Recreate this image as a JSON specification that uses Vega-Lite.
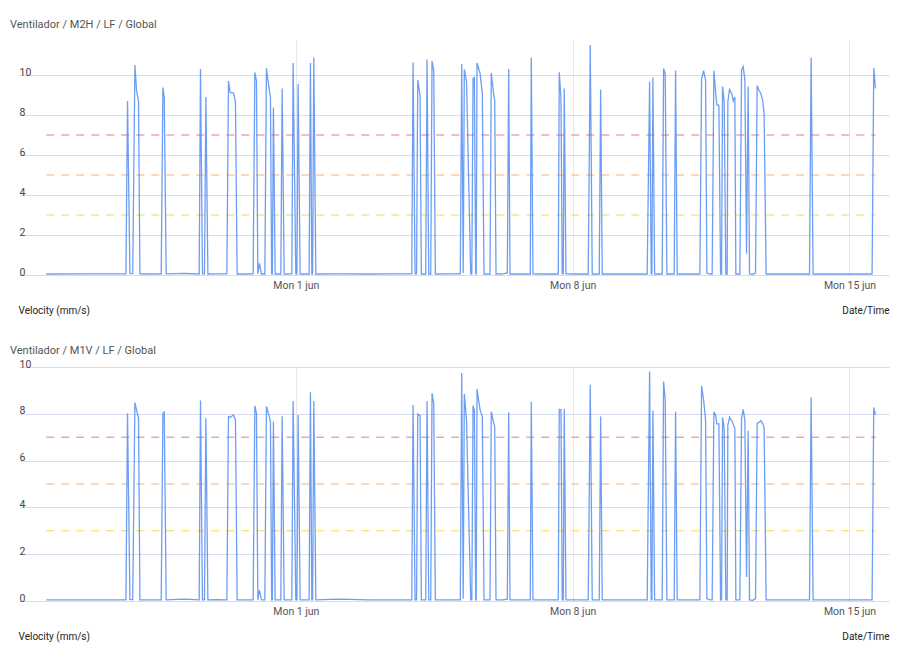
{
  "$schema": "https://vega.github.io/schema/vega-lite/v6.json",
  "background": "white",
  "padding": {"top": 19, "left": 10, "right": 5, "bottom": 5},
  "bounds": "flush",
  "spacing": 92,
  "datasets": {
    "readings": [
      {"time": "2020-05-25T16:33", "M2H": 0.05, "M1V": 0.05},
      {"time": "2020-05-26T18:38", "M2H": 0.06, "M1V": 0.05},
      {"time": "2020-05-27T16:54", "M2H": 0.06, "M1V": 0.05},
      {"time": "2020-05-27T17:52", "M2H": 8.7, "M1V": 8.02},
      {"time": "2020-05-27T19:19", "M2H": 0.08, "M1V": 0.06},
      {"time": "2020-05-27T21:01", "M2H": 0.07, "M1V": 0.06},
      {"time": "2020-05-27T22:21", "M2H": 10.5, "M1V": 8.48},
      {"time": "2020-05-27T23:20", "M2H": 9.25, "M1V": 8.17},
      {"time": "2020-05-28T00:32", "M2H": 8.67, "M1V": 7.81},
      {"time": "2020-05-28T01:23", "M2H": 0.06, "M1V": 0.05},
      {"time": "2020-05-28T08:15", "M2H": 0.05, "M1V": 0.05},
      {"time": "2020-05-28T14:18", "M2H": 0.06, "M1V": 0.05},
      {"time": "2020-05-28T15:20", "M2H": 9.37, "M1V": 8.02},
      {"time": "2020-05-28T16:08", "M2H": 8.9, "M1V": 8.07},
      {"time": "2020-05-28T17:20", "M2H": 0.06, "M1V": 0.05},
      {"time": "2020-05-29T04:15", "M2H": 0.08, "M1V": 0.08},
      {"time": "2020-05-29T13:21", "M2H": 0.05, "M1V": 0.05},
      {"time": "2020-05-29T14:09", "M2H": 10.3, "M1V": 8.57},
      {"time": "2020-05-29T15:21", "M2H": 0.06, "M1V": 0.05},
      {"time": "2020-05-29T16:34", "M2H": 0.06, "M1V": 0.05},
      {"time": "2020-05-29T17:25", "M2H": 8.9, "M1V": 7.81},
      {"time": "2020-05-29T18:38", "M2H": 0.05, "M1V": 0.05},
      {"time": "2020-05-30T00:16", "M2H": 0.06, "M1V": 0.06},
      {"time": "2020-05-30T06:09", "M2H": 0.06, "M1V": 0.05},
      {"time": "2020-05-30T07:08", "M2H": 9.7, "M1V": 7.88},
      {"time": "2020-05-30T08:09", "M2H": 9.13, "M1V": 7.85},
      {"time": "2020-05-30T10:10", "M2H": 9.1, "M1V": 7.95},
      {"time": "2020-05-30T11:22", "M2H": 8.67, "M1V": 7.74},
      {"time": "2020-05-30T12:24", "M2H": 0.05, "M1V": 0.05},
      {"time": "2020-05-30T17:15", "M2H": 0.05, "M1V": 0.05},
      {"time": "2020-05-30T22:06", "M2H": 0.06, "M1V": 0.05},
      {"time": "2020-05-30T23:08", "M2H": 10.13, "M1V": 8.34},
      {"time": "2020-05-31T00:07", "M2H": 9.7, "M1V": 8.02},
      {"time": "2020-05-31T00:57", "M2H": 0.06, "M1V": 0.05},
      {"time": "2020-05-31T01:56", "M2H": 0.58, "M1V": 0.46},
      {"time": "2020-05-31T03:09", "M2H": 0.05, "M1V": 0.05},
      {"time": "2020-05-31T05:12", "M2H": 0.05, "M1V": 0.05},
      {"time": "2020-05-31T06:10", "M2H": 10.35, "M1V": 8.31},
      {"time": "2020-05-31T07:38", "M2H": 9.4, "M1V": 7.95},
      {"time": "2020-05-31T08:36", "M2H": 8.9, "M1V": 7.67},
      {"time": "2020-05-31T09:20", "M2H": 0.06, "M1V": 0.05},
      {"time": "2020-05-31T09:45", "M2H": 0.06, "M1V": 0.05},
      {"time": "2020-05-31T10:25", "M2H": 8.38, "M1V": 7.67},
      {"time": "2020-05-31T11:27", "M2H": 0.05, "M1V": 0.05},
      {"time": "2020-05-31T14:54", "M2H": 0.05, "M1V": 0.05},
      {"time": "2020-05-31T15:42", "M2H": 9.33, "M1V": 7.9},
      {"time": "2020-05-31T16:55", "M2H": 0.05, "M1V": 0.05},
      {"time": "2020-05-31T21:35", "M2H": 0.06, "M1V": 0.05},
      {"time": "2020-05-31T22:22", "M2H": 10.6, "M1V": 8.55},
      {"time": "2020-06-01T00:00", "M2H": 0.06, "M1V": 0.05},
      {"time": "2020-06-01T00:40", "M2H": 0.06, "M1V": 0.05},
      {"time": "2020-06-01T01:24", "M2H": 9.55, "M1V": 7.95},
      {"time": "2020-06-01T02:37", "M2H": 0.05, "M1V": 0.05},
      {"time": "2020-06-01T08:04", "M2H": 0.05, "M1V": 0.05},
      {"time": "2020-06-01T08:52", "M2H": 10.6, "M1V": 8.92},
      {"time": "2020-06-01T09:43", "M2H": 0.06, "M1V": 0.05},
      {"time": "2020-06-01T10:12", "M2H": 0.06, "M1V": 0.05},
      {"time": "2020-06-01T10:55", "M2H": 10.88, "M1V": 8.55},
      {"time": "2020-06-01T12:08", "M2H": 0.05, "M1V": 0.05},
      {"time": "2020-06-02T02:16", "M2H": 0.06, "M1V": 0.08},
      {"time": "2020-06-02T20:28", "M2H": 0.05, "M1V": 0.05},
      {"time": "2020-06-03T08:36", "M2H": 0.06, "M1V": 0.05},
      {"time": "2020-06-03T22:22", "M2H": 0.06, "M1V": 0.05},
      {"time": "2020-06-03T23:09", "M2H": 10.63, "M1V": 8.38},
      {"time": "2020-06-04T00:22", "M2H": 0.06, "M1V": 0.05},
      {"time": "2020-06-04T01:16", "M2H": 0.06, "M1V": 0.05},
      {"time": "2020-06-04T02:00", "M2H": 9.75, "M1V": 7.99},
      {"time": "2020-06-04T03:24", "M2H": 9.0, "M1V": 7.92},
      {"time": "2020-06-04T04:11", "M2H": 0.05, "M1V": 0.05},
      {"time": "2020-06-04T06:51", "M2H": 0.05, "M1V": 0.05},
      {"time": "2020-06-04T07:39", "M2H": 10.78, "M1V": 8.55},
      {"time": "2020-06-04T08:40", "M2H": 0.05, "M1V": 0.05},
      {"time": "2020-06-04T09:53", "M2H": 0.05, "M1V": 0.05},
      {"time": "2020-06-04T10:40", "M2H": 10.7, "M1V": 8.88},
      {"time": "2020-06-04T11:42", "M2H": 10.25, "M1V": 8.45},
      {"time": "2020-06-04T12:41", "M2H": 0.05, "M1V": 0.05},
      {"time": "2020-06-04T20:59", "M2H": 0.06, "M1V": 0.05},
      {"time": "2020-06-05T03:50", "M2H": 0.06, "M1V": 0.05},
      {"time": "2020-06-05T04:41", "M2H": 10.55, "M1V": 9.74},
      {"time": "2020-06-05T05:36", "M2H": 0.1, "M1V": 0.1},
      {"time": "2020-06-05T06:16", "M2H": 10.28, "M1V": 8.85},
      {"time": "2020-06-05T07:36", "M2H": 9.67, "M1V": 7.74},
      {"time": "2020-06-05T10:09", "M2H": 0.06, "M1V": 0.05},
      {"time": "2020-06-05T10:49", "M2H": 0.06, "M1V": 0.05},
      {"time": "2020-06-05T11:33", "M2H": 9.83, "M1V": 8.35},
      {"time": "2020-06-05T12:20", "M2H": 9.87, "M1V": 8.17},
      {"time": "2020-06-05T13:11", "M2H": 0.06, "M1V": 0.05},
      {"time": "2020-06-05T13:29", "M2H": 0.06, "M1V": 0.05},
      {"time": "2020-06-05T13:58", "M2H": 10.6, "M1V": 9.05},
      {"time": "2020-06-05T15:47", "M2H": 10.1, "M1V": 8.19},
      {"time": "2020-06-05T17:11", "M2H": 9.08, "M1V": 7.88},
      {"time": "2020-06-05T18:13", "M2H": 0.05, "M1V": 0.05},
      {"time": "2020-06-05T21:51", "M2H": 0.05, "M1V": 0.05},
      {"time": "2020-06-05T22:38", "M2H": 10.1, "M1V": 8.09},
      {"time": "2020-06-05T23:51", "M2H": 9.17, "M1V": 7.67},
      {"time": "2020-06-06T00:42", "M2H": 8.72, "M1V": 7.45},
      {"time": "2020-06-06T01:30", "M2H": 0.05, "M1V": 0.05},
      {"time": "2020-06-06T05:44", "M2H": 0.06, "M1V": 0.05},
      {"time": "2020-06-06T08:21", "M2H": 0.1, "M1V": 0.08},
      {"time": "2020-06-06T09:12", "M2H": 10.3, "M1V": 8.07},
      {"time": "2020-06-06T09:59", "M2H": 0.05, "M1V": 0.05},
      {"time": "2020-06-06T22:18", "M2H": 0.05, "M1V": 0.05},
      {"time": "2020-06-06T22:54", "M2H": 10.88, "M1V": 8.52},
      {"time": "2020-06-06T23:56", "M2H": 0.06, "M1V": 0.05},
      {"time": "2020-06-07T06:36", "M2H": 0.05, "M1V": 0.05},
      {"time": "2020-06-07T15:17", "M2H": 0.05, "M1V": 0.05},
      {"time": "2020-06-07T15:53", "M2H": 10.13, "M1V": 8.19},
      {"time": "2020-06-07T16:55", "M2H": 8.83, "M1V": 8.17},
      {"time": "2020-06-07T17:42", "M2H": 0.06, "M1V": 0.05},
      {"time": "2020-06-07T18:19", "M2H": 0.06, "M1V": 0.05},
      {"time": "2020-06-07T18:55", "M2H": 9.33, "M1V": 8.21},
      {"time": "2020-06-07T19:57", "M2H": 0.06, "M1V": 0.05},
      {"time": "2020-06-08T02:37", "M2H": 0.05, "M1V": 0.05},
      {"time": "2020-06-08T09:28", "M2H": 0.05, "M1V": 0.05},
      {"time": "2020-06-08T10:41", "M2H": 11.5, "M1V": 9.24},
      {"time": "2020-06-08T11:54", "M2H": 0.05, "M1V": 0.05},
      {"time": "2020-06-08T16:09", "M2H": 0.05, "M1V": 0.05},
      {"time": "2020-06-08T17:00", "M2H": 9.28, "M1V": 7.88},
      {"time": "2020-06-08T17:58", "M2H": 0.05, "M1V": 0.05},
      {"time": "2020-06-09T07:08", "M2H": 0.05, "M1V": 0.05},
      {"time": "2020-06-09T21:15", "M2H": 0.05, "M1V": 0.05},
      {"time": "2020-06-09T22:43", "M2H": 9.67, "M1V": 9.81},
      {"time": "2020-06-09T23:41", "M2H": 0.06, "M1V": 0.05},
      {"time": "2020-06-10T00:07", "M2H": 0.06, "M1V": 0.05},
      {"time": "2020-06-10T00:43", "M2H": 9.88, "M1V": 8.14},
      {"time": "2020-06-10T01:45", "M2H": 0.05, "M1V": 0.05},
      {"time": "2020-06-10T06:21", "M2H": 0.05, "M1V": 0.05},
      {"time": "2020-06-10T07:12", "M2H": 10.33, "M1V": 9.38},
      {"time": "2020-06-10T08:11", "M2H": 10.05, "M1V": 8.6},
      {"time": "2020-06-10T09:12", "M2H": 0.05, "M1V": 0.05},
      {"time": "2020-06-10T13:38", "M2H": 0.05, "M1V": 0.05},
      {"time": "2020-06-10T14:29", "M2H": 10.22, "M1V": 8.09},
      {"time": "2020-06-10T15:27", "M2H": 0.05, "M1V": 0.05},
      {"time": "2020-06-10T22:33", "M2H": 0.05, "M1V": 0.05},
      {"time": "2020-06-11T05:13", "M2H": 0.05, "M1V": 0.05},
      {"time": "2020-06-11T06:15", "M2H": 9.78, "M1V": 9.19},
      {"time": "2020-06-11T07:28", "M2H": 10.22, "M1V": 8.6},
      {"time": "2020-06-11T08:41", "M2H": 9.75, "M1V": 7.74},
      {"time": "2020-06-11T09:28", "M2H": 0.1, "M1V": 0.1},
      {"time": "2020-06-11T11:17", "M2H": 0.05, "M1V": 0.05},
      {"time": "2020-06-11T12:41", "M2H": 0.05, "M1V": 0.05},
      {"time": "2020-06-11T13:43", "M2H": 10.22, "M1V": 8.09},
      {"time": "2020-06-11T14:45", "M2H": 9.17, "M1V": 7.95},
      {"time": "2020-06-11T15:32", "M2H": 8.5, "M1V": 7.57},
      {"time": "2020-06-11T16:45", "M2H": 8.48, "M1V": 7.57},
      {"time": "2020-06-11T17:47", "M2H": 0.05, "M1V": 0.05},
      {"time": "2020-06-11T18:23", "M2H": 0.05, "M1V": 0.05},
      {"time": "2020-06-11T18:59", "M2H": 9.42, "M1V": 7.85},
      {"time": "2020-06-11T19:58", "M2H": 8.67, "M1V": 7.38},
      {"time": "2020-06-11T20:59", "M2H": 0.05, "M1V": 0.05},
      {"time": "2020-06-11T21:47", "M2H": 0.05, "M1V": 0.05},
      {"time": "2020-06-11T22:12", "M2H": 8.67, "M1V": 7.52},
      {"time": "2020-06-11T23:14", "M2H": 9.28, "M1V": 7.85},
      {"time": "2020-06-12T00:49", "M2H": 9.0, "M1V": 7.67},
      {"time": "2020-06-12T01:25", "M2H": 8.7, "M1V": 7.55},
      {"time": "2020-06-12T02:27", "M2H": 8.9, "M1V": 7.38},
      {"time": "2020-06-12T03:03", "M2H": 0.05, "M1V": 0.05},
      {"time": "2020-06-12T05:29", "M2H": 0.05, "M1V": 0.05},
      {"time": "2020-06-12T06:31", "M2H": 10.25, "M1V": 7.81},
      {"time": "2020-06-12T07:29", "M2H": 10.42, "M1V": 8.19},
      {"time": "2020-06-12T08:31", "M2H": 9.78, "M1V": 7.74},
      {"time": "2020-06-12T09:33", "M2H": 1.08, "M1V": 1.03},
      {"time": "2020-06-12T10:31", "M2H": 9.42, "M1V": 7.28},
      {"time": "2020-06-12T11:22", "M2H": 0.05, "M1V": 0.05},
      {"time": "2020-06-12T13:22", "M2H": 0.03, "M1V": 0.03},
      {"time": "2020-06-12T15:00", "M2H": 0.1, "M1V": 0.1},
      {"time": "2020-06-12T15:59", "M2H": 9.47, "M1V": 7.6},
      {"time": "2020-06-12T17:00", "M2H": 9.25, "M1V": 7.62},
      {"time": "2020-06-12T18:13", "M2H": 9.08, "M1V": 7.71},
      {"time": "2020-06-12T19:26", "M2H": 8.67, "M1V": 7.57},
      {"time": "2020-06-12T20:13", "M2H": 8.0, "M1V": 7.4},
      {"time": "2020-06-12T21:26", "M2H": 0.05, "M1V": 0.05},
      {"time": "2020-06-13T11:12", "M2H": 0.05, "M1V": 0.05},
      {"time": "2020-06-13T23:45", "M2H": 0.05, "M1V": 0.05},
      {"time": "2020-06-14T00:44", "M2H": 10.88, "M1V": 8.71},
      {"time": "2020-06-14T01:56", "M2H": 0.05, "M1V": 0.05},
      {"time": "2020-06-14T17:32", "M2H": 0.05, "M1V": 0.05},
      {"time": "2020-06-15T13:44", "M2H": 0.05, "M1V": 0.05},
      {"time": "2020-06-15T14:45", "M2H": 10.35, "M1V": 8.27},
      {"time": "2020-06-15T15:47", "M2H": 9.33, "M1V": 7.95}
    ],
    "thresholds": [
      {"level": "alarm", "value": 7, "time": "2020-05-25T16:33"},
      {"level": "alarm", "value": 7, "time": "2020-06-15T15:47"},
      {"level": "alert", "value": 5, "time": "2020-05-25T16:33"},
      {"level": "alert", "value": 5, "time": "2020-06-15T15:47"},
      {"level": "warning", "value": 3, "time": "2020-05-25T16:33"},
      {"level": "warning", "value": 3, "time": "2020-06-15T15:47"}
    ]
  },
  "vconcat": [
    {
      "title": {"text": "Ventilador / M2H / LF / Global", "offset": 10},
      "width": 870,
      "height": 235,
      "layer": [
        {
          "data": {"name": "thresholds"},
          "mark": {"type": "line", "strokeDash": [8, 7], "strokeWidth": 1, "opacity": 0.85},
          "encoding": {
            "x": {"field": "time", "type": "temporal",
              "scale": {"domain": [{"year": 2020, "month": 5, "date": 25}, {"year": 2020, "month": 6, "date": 16}]},
              "axis": {"values": [{"year": 2020, "month": 6, "date": 1}, {"year": 2020, "month": 6, "date": 8}, {"year": 2020, "month": 6, "date": 15}],
                "labelExpr": "timeFormat(datum.value, '%a %-d ') + lower(timeFormat(datum.value, '%b'))",
                "labelColor": "#555", "labelPadding": 5, "gridColor": "#e3e7f3",
                "title": "Date/Time", "titleAlign": "right", "titleBaseline": "middle", "titleX": 870, "titleY": 35}},
            "y": {"field": "value", "type": "quantitative",
              "scale": {"domain": [0, 11.75], "nice": false},
              "axis": {"values": [0, 2, 4, 6, 8, 10], "labelAlign": "left", "labelPadding": 0, "labelBaseline": "alphabetic", "labelDy": -6,
                "gridColor": "#d7ddef", "title": "Velocity (mm/s)", "titleAngle": 0, "titleAlign": "left", "titleBaseline": "middle", "titleX": -1, "titleY": 270}},
            "color": {"field": "level", "type": "nominal", "legend": null,
              "scale": {"domain": ["alarm", "alert", "warning"], "range": ["#e06666", "#f6a35c", "#f1d12e"]}}
          }
        },
        {
          "data": {"name": "readings"},
          "mark": {"type": "line", "color": "#4a86f0", "strokeWidth": 1.3, "opacity": 0.8},
          "encoding": {
            "x": {"field": "time", "type": "temporal"},
            "y": {"field": "M2H", "type": "quantitative"}
          }
        }
      ]
    },
    {
      "title": {"text": "Ventilador / M1V / LF / Global", "offset": 3},
      "width": 870,
      "height": 234,
      "layer": [
        {
          "data": {"name": "thresholds"},
          "mark": {"type": "line", "strokeDash": [8, 7], "strokeWidth": 1, "opacity": 0.85},
          "encoding": {
            "x": {"field": "time", "type": "temporal",
              "scale": {"domain": [{"year": 2020, "month": 5, "date": 25}, {"year": 2020, "month": 6, "date": 16}]},
              "axis": {"values": [{"year": 2020, "month": 6, "date": 1}, {"year": 2020, "month": 6, "date": 8}, {"year": 2020, "month": 6, "date": 15}],
                "labelExpr": "timeFormat(datum.value, '%a %-d ') + lower(timeFormat(datum.value, '%b'))",
                "labelColor": "#555", "labelPadding": 5, "gridColor": "#e3e7f3",
                "title": "Date/Time", "titleAlign": "right", "titleBaseline": "middle", "titleX": 870, "titleY": 35}},
            "y": {"field": "value", "type": "quantitative",
              "scale": {"domain": [0, 10], "nice": false},
              "axis": {"values": [0, 2, 4, 6, 8, 10], "labelAlign": "left", "labelPadding": 0, "labelBaseline": "alphabetic", "labelDy": -6,
                "gridColor": "#d7ddef", "title": "Velocity (mm/s)", "titleAngle": 0, "titleAlign": "left", "titleBaseline": "middle", "titleX": -1, "titleY": 269}},
            "color": {"field": "level", "type": "nominal", "legend": null,
              "scale": {"domain": ["alarm", "alert", "warning"], "range": ["#e06666", "#f6a35c", "#f1d12e"]}}
          }
        },
        {
          "data": {"name": "readings"},
          "mark": {"type": "line", "color": "#4a86f0", "strokeWidth": 1.3, "opacity": 0.8},
          "encoding": {
            "x": {"field": "time", "type": "temporal"},
            "y": {"field": "M1V", "type": "quantitative"}
          }
        }
      ]
    }
  ],
  "resolve": {"scale": {"color": "independent"}},
  "config": {
    "font": "Roboto",
    "view": {"stroke": null},
    "axis": {"domain": false, "ticks": false, "tickSize": 0, "labelColor": "#444", "labelFontSize": 10.5,
      "titleFontSize": 10, "titleFontWeight": "normal", "titleColor": "#222"},
    "title": {"anchor": "start", "fontSize": 11, "fontWeight": "normal", "color": "#555", "dx": -8}
  }
}
